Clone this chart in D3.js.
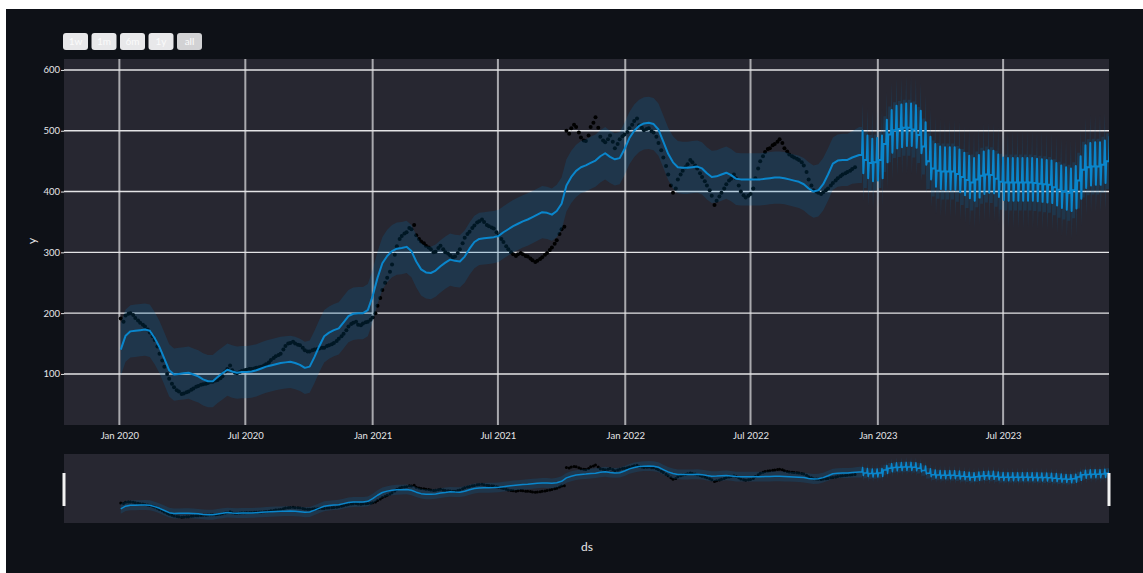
<!DOCTYPE html>
<html>
<head>
<meta charset="utf-8">
<script src="https://cdn.jsdelivr.net/npm/d3@7"></script>
<style>
body { margin: 0; background: #ffffff; }
svg { display: block; font-family: "Lato", "Open Sans", sans-serif; }
</style>
</head>
<body>
<svg id="chart"></svg>
<script>
// observed values, one per week (Fridays from histStart)
const histStart = "2020-01-03";
const actual = [
  191,196,200,192,184,178,168,156,133,112,
  92,78,71,68,71,76,80,83,85,87,
  90,96,108,106,101,105,107,108,110,112,
  116,123,129,133,146,151,150,147,139,137,
  140,142,143,147,151,158,166,178,184,181,
  183,186,193,212,238,258,280,310,327,333,
  338,328,318,311,305,301,311,300,295,293,
  305,324,334,344,351,350,343,339,328,317,
  305,297,297,297,293,287,286,292,299,308,
  320,338,500,504,506,489,483,506,522,490,
  481,492,471,486,494,504,516,509,501,504,
  497,480,456,428,398,420,434,445,448,438,
  424,410,393,385,398,412,421,422,400,390,
  396,422,450,465,471,478,486,471,461,456,
  452,443,420,402,398,399,405,414,422,428,
  432,437
]
// observed values on the following Tuesdays
const actualMid = [
  186,199,197,188,181,173,162,145,122,100,
  84,73,67,70,74,79,82,84,87,89,
  93,104,114,102,103,106,108,109,111,114,
  119,126,131,140,150,153,148,143,137,139,
  141,143,146,149,154,162,172,182,186,180,
  185,189,200,225,250,268,296,322,331,340,
  345,322,315,308,300,307,305,298,292,299,
  315,330,340,349,354,345,341,333,322,310,
  300,294,299,294,290,284,289,296,304,314,
  330,342,495,510,497,484,492,513,505,484,
  486,482,478,491,498,510,520,505,503,499,
  490,468,442,410,405,428,440,452,443,430,
  417,402,378,392,405,418,428,410,394,393,
  405,438,458,470,476,482,480,466,458,454,
  448,432,410,400,396,402,410,418,425,430,
  434,440
]

// fitted yhat on the same weeks
const yhatHist = [
  140,163,170,171,172,173,171,159,144,125,
  106,99,100,101,102,99,96,91,88,88,
  95,101,107,104,102,103,103,104,106,109,
  112,114,116,118,119,120,118,115,110,112,
  128,146,162,168,172,175,185,195,199,200,
  200,205,228,258,282,294,302,306,307,309,
  302,285,272,267,266,270,277,283,288,286,
  285,293,306,317,322,323,324,325,327,333,
  338,343,347,351,354,358,362,366,365,362,
  368,380,410,424,434,440,443,447,451,458,
  463,457,453,455,470,488,500,508,512,513,
  511,502,482,462,448,440,439,439,440,441,
  438,430,424,425,428,431,427,421,420,420,
  420,420,420,421,422,423,423,422,420,418,
  416,412,405,400,402,412,428,446,451,452,
  452,456
]

// forecast weekday level, one per week (Mondays from fcStart)
const fcStart = "2022-12-05";
const yhatFc = [
  460,452,447,448,452,478,494,501,503,505,
  505,502,493,474,450,438,434,433,433,433,
  429,424,419,415,420,426,428,427,421,416,
  415,415,415,415,415,415,414,413,412,411,
  407,403,400,398,402,418,436,440,441,441,
  444,450
]
const weekendSwing = [40, -30]      // saturday, sunday offset in forecast
const intervalHalf = [43, 46]       // history, forecast

const yTicks = [100, 200, 300, 400, 500, 600]
const xTicks = ["2020-01-01","2020-07-01","2021-01-01","2021-07-01","2022-01-01","2022-07-01","2023-01-01","2023-07-01"]
const xTickLabels = ["Jan 2020","Jul 2020","Jan 2021","Jul 2021","Jan 2022","Jul 2022","Jan 2023","Jul 2023"]
const buttons = ["1w", "1m", "6m", "1y", "all"]

function drawChart() {
  const svgWidth = 1143, svgHeight = 573
  const plot = {left: 64, right: 1109, top: 59, bottom: 425}
  const slider = {top: 454, bottom: 523}
  const parse = d3.utcParse("%Y-%m-%d")

  const svg = d3.select("#chart").attr("width", svgWidth).attr("height", svgHeight)

  svg.append("rect").attr("x", 6).attr("y", 9)
    .attr("width", svgWidth - 6).attr("height", svgHeight - 9).attr("fill", "#0e1117")

  const xScale = d3.scaleUtc()
    .domain([parse("2019-10-13"), parse("2023-12-01")])
    .range([plot.left, plot.right])
  const yScale = d3.scaleLinear().domain([16, 618]).range([plot.bottom, plot.top])
  const ySlider = d3.scaleLinear().domain([16, 618]).range([slider.bottom, slider.top])

  // build series
  const h0 = parse(histStart)
  const dots = actual.map((v, i) => ({date: d3.utcDay.offset(h0, 7 * i), v}))
    .concat(actualMid.map((v, i) => ({date: d3.utcDay.offset(h0, 7 * i + 4), v})))
  const fit = yhatHist.map((v, i) => ({date: d3.utcDay.offset(h0, 7 * i), v, half: intervalHalf[0]}))
  const f0 = parse(fcStart)
  yhatFc.forEach((v, i) => {
    const mon = d3.utcDay.offset(f0, 7 * i)
    const half = intervalHalf[1]
    fit.push({date: mon, v, half})
    fit.push({date: d3.utcDay.offset(mon, 4), v, half})
    fit.push({date: d3.utcDay.offset(mon, 5), v: v + weekendSwing[0], half})
    fit.push({date: d3.utcDay.offset(mon, 6), v: v + weekendSwing[1], half})
  })

  const defs = svg.append("defs")
  defs.append("clipPath").attr("id", "clipMain").append("rect")
    .attr("x", plot.left).attr("y", plot.top)
    .attr("width", plot.right - plot.left).attr("height", plot.bottom - plot.top)
  defs.append("clipPath").attr("id", "clipSlider").append("rect")
    .attr("x", plot.left).attr("y", slider.top)
    .attr("width", plot.right - plot.left).attr("height", slider.bottom - slider.top)

  // buttons (range selector)
  const btn = svg.append("g")
  btn.selectAll("rect").data(buttons).join("rect")
    .attr("x", (d, i) => 63 + i * 28.5).attr("y", 33)
    .attr("width", 25).attr("height", 17).attr("rx", 3)
    .attr("fill", (d, i) => i == buttons.length - 1 ? "#d2d2d4" : "#e8e8ea")
  btn.selectAll("text").data(buttons).join("text")
    .attr("x", (d, i) => 63 + i * 28.5 + 12.5).attr("y", 45)
    .attr("text-anchor", "middle").attr("font-size", 10).attr("fill", "#fbfbfb")
    .text(d => d)

  // plot background
  svg.append("rect").attr("x", plot.left).attr("y", plot.top)
    .attr("width", plot.right - plot.left).attr("height", plot.bottom - plot.top)
    .attr("fill", "#272731")

  // grid
  svg.append("g").selectAll("line").data(xTicks).join("line")
    .attr("x1", d => xScale(parse(d))).attr("x2", d => xScale(parse(d)))
    .attr("y1", plot.top).attr("y2", plot.bottom)
    .attr("stroke", "#a9a9ae").attr("stroke-width", 2)
  svg.append("g").selectAll("line").data(yTicks).join("line")
    .attr("x1", plot.left).attr("x2", plot.right)
    .attr("y1", d => yScale(d)).attr("y2", d => yScale(d))
    .attr("stroke", "#e4e4e6").attr("stroke-width", 1.4)

  // axes
  const yAxis = svg.append("g").attr("transform", `translate(${plot.left},0)`)
    .call(d3.axisLeft(yScale).tickValues(yTicks).tickSize(3).tickPadding(1))
  yAxis.select(".domain").remove()
  yAxis.selectAll("line").attr("stroke", "#e4e4e6")
  yAxis.selectAll("text").attr("fill", "#e6e6e8").attr("font-size", 9.5)
    .attr("font-family", "Lato, sans-serif")

  const xAxis = svg.append("g").attr("transform", `translate(0,${plot.bottom})`)
    .call(d3.axisBottom(xScale).tickValues(xTicks.map(parse))
      .tickFormat((d, i) => xTickLabels[i]).tickSize(0).tickPadding(7))
  xAxis.select(".domain").remove()
  xAxis.selectAll("text").attr("fill", "#e6e6e8").attr("font-size", 9.5)
    .attr("font-family", "Lato, sans-serif")

  // series: observed dots, uncertainty band, yhat line
  function drawSeries(g, ys, r, lw) {
    g.selectAll("circle").data(dots).join("circle")
      .attr("cx", d => xScale(d.date)).attr("cy", d => ys(d.v))
      .attr("r", r).attr("fill", "#000000")
    g.append("path").datum(fit)
      .attr("d", d3.area().x(d => xScale(d.date))
        .y0(d => ys(d.v - d.half)).y1(d => ys(d.v + d.half)))
      .attr("fill", "rgba(0,114,178,0.2)")
    g.append("path").datum(fit)
      .attr("d", d3.line().x(d => xScale(d.date)).y(d => ys(d.v)))
      .attr("fill", "none").attr("stroke", "#0a86cc").attr("stroke-width", lw)
      .attr("stroke-linejoin", "round")
  }
  drawSeries(svg.append("g").attr("clip-path", "url(#clipMain)"), yScale, 2, 2)

  // range slider
  svg.append("rect").attr("x", plot.left).attr("y", slider.top)
    .attr("width", plot.right - plot.left).attr("height", slider.bottom - slider.top)
    .attr("fill", "#272731")
  drawSeries(svg.append("g").attr("clip-path", "url(#clipSlider)"), ySlider, 1.5, 1.5)
  svg.append("g").selectAll("rect").data([plot.left, plot.right]).join("rect")
    .attr("x", d => d - 1.5).attr("y", 473).attr("width", 3).attr("height", 33)
    .attr("fill", "#f2f2f2")

  // axis titles
  svg.append("text").attr("x", 587).attr("y", 551).attr("text-anchor", "middle")
    .attr("font-size", 12).attr("fill", "#e6e6e8").text("ds")
  svg.append("text").attr("transform", "translate(36,241) rotate(-90)")
    .attr("text-anchor", "middle").attr("font-size", 12).attr("fill", "#e6e6e8").text("y")
}

drawChart()
</script>
</body>
</html>
